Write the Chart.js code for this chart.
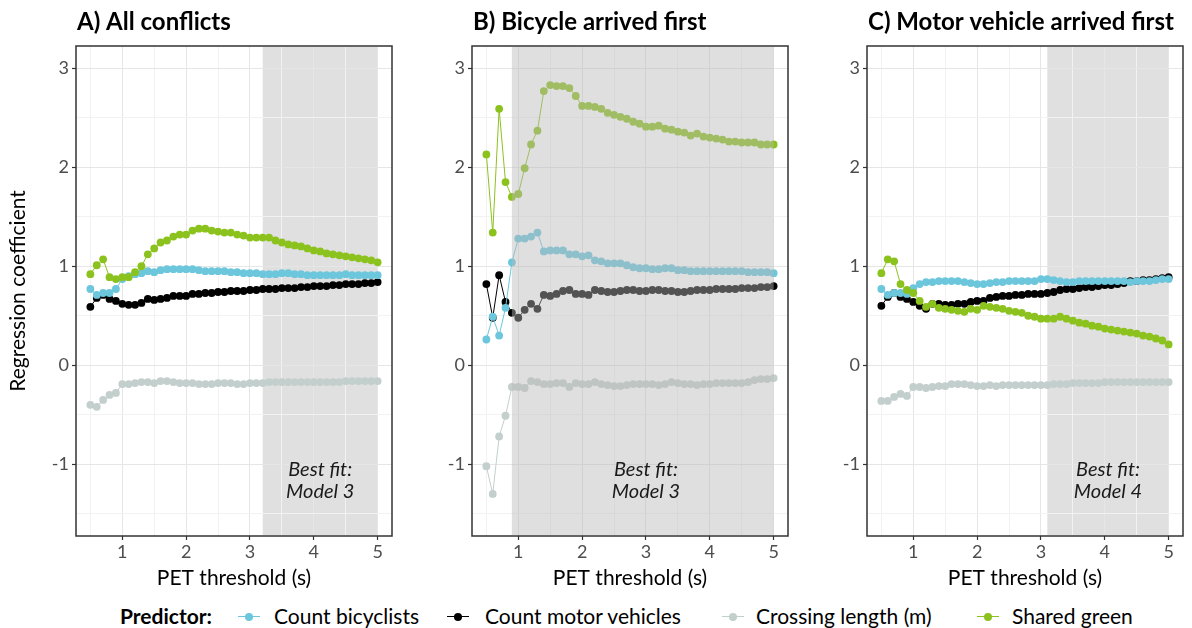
<!DOCTYPE html>
<html>
<head>
<meta charset="utf-8">
<script src="https://cdn.jsdelivr.net/npm/chart.js@4.4.1/dist/chart.umd.min.js"></script>
<style>
  body { margin: 0; background: #fff; font-family: Lato, "Open Sans", sans-serif; }
  #wrap { position: relative; width: 1192px; height: 628px; overflow: hidden; }
  .panel { position: absolute; top: 0; }
  #legend { position: absolute; left: 0; top: 602px; width: 1192px; height: 28px; font-size: 21px; color: #000; }
  #legend .txt { position: absolute; top: 0; line-height: 28px; white-space: nowrap; }
  #legend .key { position: absolute; top: 14px; width: 22px; height: 1px; }
  #legend .key i { position: absolute; left: 7px; top: -3.5px; width: 8px; height: 8px; border-radius: 50%; }
</style>
</head>
<body>
<div id="wrap">
  <canvas id="panelA" class="panel" width="400" height="600" style="left:0px"></canvas>
  <canvas id="panelB" class="panel" width="396" height="600" style="left:400px"></canvas>
  <canvas id="panelC" class="panel" width="396" height="600" style="left:796px"></canvas>
  <div id="legend"></div>
</div>
<script>
// PET thresholds (s)
const petThresholds = [0.5, 0.6, 0.7, 0.8, 0.9, 1.0, 1.1, 1.2, 1.3, 1.4, 1.5, 1.6, 1.7, 1.8, 1.9,
  2.0, 2.1, 2.2, 2.3, 2.4, 2.5, 2.6, 2.7, 2.8, 2.9, 3.0, 3.1, 3.2, 3.3, 3.4, 3.5, 3.6, 3.7, 3.8, 3.9,
  4.0, 4.1, 4.2, 4.3, 4.4, 4.5, 4.6, 4.7, 4.8, 4.9, 5.0];

const seriesNames = ['Count bicyclists', 'Count motor vehicles', 'Crossing length (m)', 'Shared green'];
const seriesColors = ['#6cc6dc', '#000000', '#c3cfcd', '#8cc21e'];

// A) All conflicts
const allBicyclists = [0.77, 0.71, 0.73, 0.73, 0.77, 0.87, 0.90, 0.92, 0.93, 0.95, 0.94, 0.96, 0.97, 0.97, 0.97,
  0.97, 0.97, 0.96, 0.95, 0.95, 0.95, 0.95, 0.94, 0.94, 0.93, 0.93, 0.93, 0.92, 0.92, 0.92, 0.93, 0.93, 0.92, 0.92, 0.91,
  0.91, 0.91, 0.91, 0.91, 0.91, 0.92, 0.91, 0.91, 0.91, 0.91, 0.91];
const allMotor = [0.59, 0.68, 0.71, 0.67, 0.65, 0.62, 0.61, 0.61, 0.63, 0.67, 0.66, 0.67, 0.68, 0.70, 0.70,
  0.70, 0.72, 0.72, 0.73, 0.73, 0.74, 0.74, 0.75, 0.75, 0.75, 0.76, 0.76, 0.77, 0.77, 0.77, 0.78, 0.78, 0.78, 0.79, 0.79,
  0.80, 0.80, 0.80, 0.81, 0.81, 0.82, 0.82, 0.82, 0.83, 0.83, 0.84];
const allCrossing = [-0.40, -0.42, -0.35, -0.30, -0.28, -0.19, -0.19, -0.18, -0.17, -0.17, -0.18, -0.16, -0.16, -0.17, -0.18,
  -0.18, -0.18, -0.19, -0.19, -0.19, -0.18, -0.18, -0.18, -0.19, -0.19, -0.18, -0.18, -0.18, -0.17, -0.17, -0.17, -0.17, -0.17, -0.17, -0.17,
  -0.17, -0.17, -0.17, -0.17, -0.17, -0.16, -0.16, -0.16, -0.16, -0.16, -0.16];
const allShared = [0.92, 1.01, 1.07, 0.89, 0.87, 0.89, 0.89, 0.94, 1.00, 1.12, 1.18, 1.24, 1.26, 1.30, 1.32,
  1.32, 1.36, 1.38, 1.38, 1.36, 1.35, 1.34, 1.34, 1.32, 1.31, 1.29, 1.29, 1.29, 1.29, 1.26, 1.24, 1.22, 1.21, 1.20, 1.18,
  1.16, 1.15, 1.13, 1.12, 1.11, 1.10, 1.09, 1.08, 1.07, 1.06, 1.04];

// B) Bicycle arrived first
const bikeBicyclists = [0.26, 0.49, 0.30, 0.58, 1.04, 1.28, 1.28, 1.30, 1.34, 1.15, 1.16, 1.16, 1.16, 1.12, 1.12,
  1.10, 1.11, 1.06, 1.05, 1.03, 1.03, 1.03, 1.01, 0.99, 0.98, 0.98, 0.97, 0.97, 0.98, 0.98, 0.96, 0.96, 0.95, 0.95, 0.95,
  0.95, 0.95, 0.95, 0.95, 0.95, 0.95, 0.94, 0.94, 0.94, 0.94, 0.93];
const bikeMotor = [0.82, 0.48, 0.91, 0.64, 0.53, 0.48, 0.56, 0.62, 0.57, 0.71, 0.70, 0.72, 0.75, 0.76, 0.72,
  0.72, 0.71, 0.76, 0.75, 0.74, 0.74, 0.75, 0.76, 0.76, 0.75, 0.75, 0.76, 0.76, 0.75, 0.75, 0.74, 0.74, 0.75, 0.76, 0.76,
  0.76, 0.77, 0.77, 0.77, 0.77, 0.78, 0.78, 0.78, 0.79, 0.79, 0.80];
const bikeCrossing = [-1.02, -1.30, -0.72, -0.51, -0.22, -0.22, -0.23, -0.16, -0.17, -0.19, -0.19, -0.18, -0.18, -0.22, -0.18,
  -0.19, -0.19, -0.17, -0.19, -0.20, -0.21, -0.21, -0.20, -0.19, -0.19, -0.19, -0.19, -0.20, -0.19, -0.17, -0.18, -0.19, -0.19, -0.20, -0.19,
  -0.19, -0.18, -0.18, -0.18, -0.18, -0.18, -0.17, -0.15, -0.14, -0.14, -0.13];
const bikeShared = [2.13, 1.34, 2.59, 1.85, 1.70, 1.73, 1.99, 2.23, 2.37, 2.77, 2.83, 2.82, 2.82, 2.80, 2.72,
  2.62, 2.62, 2.61, 2.59, 2.55, 2.53, 2.51, 2.49, 2.46, 2.44, 2.41, 2.41, 2.42, 2.39, 2.38, 2.36, 2.35, 2.32, 2.34, 2.31,
  2.30, 2.29, 2.28, 2.26, 2.26, 2.25, 2.25, 2.25, 2.23, 2.23, 2.23];

// C) Motor vehicle arrived first
const motorBicyclists = [0.77, 0.71, 0.73, 0.73, 0.72, 0.78, 0.82, 0.84, 0.84, 0.85, 0.85, 0.85, 0.85, 0.84, 0.83,
  0.82, 0.82, 0.83, 0.84, 0.84, 0.85, 0.85, 0.85, 0.85, 0.85, 0.87, 0.87, 0.86, 0.85, 0.84, 0.84, 0.85, 0.85, 0.85, 0.85,
  0.85, 0.85, 0.85, 0.85, 0.84, 0.85, 0.85, 0.85, 0.86, 0.87, 0.87];
const motorMotor = [0.60, 0.69, 0.73, 0.69, 0.67, 0.64, 0.60, 0.57, 0.62, 0.62, 0.61, 0.61, 0.62, 0.62, 0.64,
  0.65, 0.65, 0.68, 0.69, 0.70, 0.70, 0.71, 0.71, 0.72, 0.72, 0.72, 0.73, 0.74, 0.76, 0.77, 0.77, 0.78, 0.79, 0.79, 0.80,
  0.81, 0.81, 0.82, 0.83, 0.85, 0.85, 0.86, 0.86, 0.87, 0.88, 0.89];
const motorCrossing = [-0.36, -0.36, -0.32, -0.29, -0.31, -0.22, -0.22, -0.23, -0.22, -0.21, -0.21, -0.19, -0.19, -0.19, -0.20,
  -0.21, -0.21, -0.20, -0.21, -0.20, -0.20, -0.20, -0.20, -0.20, -0.20, -0.20, -0.20, -0.19, -0.19, -0.19, -0.18, -0.18, -0.18, -0.18, -0.18,
  -0.17, -0.17, -0.17, -0.17, -0.17, -0.17, -0.17, -0.17, -0.17, -0.17, -0.17];
const motorShared = [0.93, 1.07, 1.05, 0.82, 0.76, 0.73, 0.65, 0.59, 0.62, 0.58, 0.57, 0.56, 0.55, 0.54, 0.57,
  0.56, 0.60, 0.59, 0.58, 0.57, 0.55, 0.54, 0.53, 0.50, 0.49, 0.47, 0.47, 0.47, 0.49, 0.47, 0.45, 0.43, 0.42, 0.40, 0.39,
  0.37, 0.36, 0.35, 0.34, 0.33, 0.32, 0.30, 0.29, 0.27, 0.25, 0.21];

// axes
const xTicks = [1, 2, 3, 4, 5];
const xMinorTicks = [0.5, 1.5, 2.5, 3.5, 4.5];
const yTicks = [-1, 0, 1, 2, 3];
const yMinorTicks = [-1.5, -0.5, 0.5, 1.5, 2.5];
const xRange = [0.275, 5.225];
const yRange = [-1.725, 3.225];

const tickFont = { family: 'Lato', size: 18 };
const titleFont = { family: 'Lato', size: 21 };

function panel(canvasId, opt) {
  const datasets = opt.series.map((vals, i) => ({
    label: seriesNames[i],
    data: petThresholds.map((x, j) => ({ x: x, y: vals[j] })),
    showLine: true,
    borderColor: seriesColors[i],
    backgroundColor: seriesColors[i],
    borderWidth: 1,
    pointRadius: 3.9,
    pointBorderWidth: 0,
    order: [2, 3, 1, 0][i]
  }));

  const drawShade = (chart) => {
    const { ctx, chartArea, scales } = chart;
    const x0 = scales.x.getPixelForValue(opt.shade[0]);
    const x1 = scales.x.getPixelForValue(opt.shade[1]);
    ctx.save();
    ctx.fillStyle = opt.shadeOver ? 'rgba(185,185,185,0.45)' : '#e0e0e0';
    ctx.fillRect(x0, chartArea.top + 1, x1 - x0, chartArea.bottom - chartArea.top - 2);
    ctx.restore();
  };

  const decor = {
    id: 'decor' + canvasId,
    beforeDraw(chart) { if (!opt.shadeOver) drawShade(chart); },
    afterDatasetsDraw(chart) { if (opt.shadeOver) drawShade(chart); },
    afterDraw(chart) {
      const { ctx, chartArea, scales } = chart;
      ctx.save();
      ctx.strokeStyle = '#333333';
      ctx.lineWidth = 1.5;
      ctx.strokeRect(chartArea.left, chartArea.top, chartArea.right - chartArea.left, chartArea.bottom - chartArea.top);
      ctx.fillStyle = '#000';
      ctx.textBaseline = 'middle';
      ctx.textAlign = 'left';
      ctx.font = 'bold 24px Lato';
      ctx.fillText(opt.title, chartArea.left + 1, 22);
      ctx.font = 'italic 20px Lato';
      ctx.fillStyle = '#1a1a1a';
      ctx.textAlign = 'center';
      const nx = scales.x.getPixelForValue(opt.noteX);
      const ny = scales.y.getPixelForValue(opt.noteY);
      ctx.fillText(opt.note[0], nx, ny - 11);
      ctx.fillText(opt.note[1], nx, ny + 11);
      ctx.restore();
    }
  };

  const isMajor = v => Math.abs(v - Math.round(v)) < 1e-9;

  return new Chart(document.getElementById(canvasId), {
    type: 'scatter',
    data: { datasets: datasets },
    plugins: [decor],
    options: {
      responsive: false,
      animation: false,
      layout: { padding: { top: 46, right: opt.padRight, left: 0, bottom: 0 } },
      plugins: { legend: { display: false }, tooltip: { enabled: false } },
      scales: {
        x: {
          type: 'linear',
          min: xRange[0], max: xRange[1],
          afterBuildTicks: s => { s.ticks = xTicks.concat(xMinorTicks).sort((a, b) => a - b).map(v => ({ value: v })); },
          afterFit: s => { s.height = 64; },
          border: { display: false },
          grid: {
            color: c => isMajor(c.tick.value) ? '#e6e6e6' : '#f2f2f2',
            lineWidth: 1,
            tickLength: 4,
            tickWidth: 1.2,
            tickColor: c => isMajor(c.tick.value) ? '#333333' : 'rgba(0,0,0,0)'
          },
          ticks: {
            autoSkip: false, maxRotation: 0, padding: 1,
            color: '#4d4d4d', font: tickFont,
            callback: v => xTicks.includes(v) ? String(v) : ''
          },
          title: { display: true, text: 'PET threshold (s)', color: '#000', font: titleFont, padding: { top: 0, bottom: 9 } }
        },
        y: {
          type: 'linear',
          min: yRange[0], max: yRange[1],
          afterBuildTicks: s => { s.ticks = yTicks.concat(yMinorTicks).sort((a, b) => a - b).map(v => ({ value: v })); },
          afterFit: s => { s.width = opt.yWidth; },
          border: { display: false },
          grid: {
            color: c => isMajor(c.tick.value) ? '#e6e6e6' : '#f2f2f2',
            lineWidth: 1,
            tickLength: 4,
            tickWidth: 1.2,
            tickColor: c => isMajor(c.tick.value) ? '#333333' : 'rgba(0,0,0,0)'
          },
          ticks: {
            autoSkip: false, padding: 3,
            color: '#4d4d4d', font: tickFont,
            callback: v => yTicks.includes(v) ? String(v) : ''
          },
          title: { display: opt.yTitle, text: 'Regression coefficient', color: '#000', font: titleFont, padding: { top: 6, bottom: 0 } }
        }
      }
    }
  });
}

panel('panelA', {
  title: 'A) All conflicts', series: [allBicyclists, allMotor, allCrossing, allShared],
  shade: [3.2, 5], shadeOver: false, note: ['Best fit:', 'Model 3'], noteX: 4.1, noteY: -1.16,
  yWidth: 76, padRight: 8, yTitle: true
});
panel('panelB', {
  title: 'B) Bicycle arrived first', series: [bikeBicyclists, bikeMotor, bikeCrossing, bikeShared],
  shade: [0.9, 5], shadeOver: true, note: ['Best fit:', 'Model 3'], noteX: 3.0, noteY: -1.16,
  yWidth: 72, padRight: 8, yTitle: false
});
panel('panelC', {
  title: 'C) Motor vehicle arrived first', series: [motorBicyclists, motorMotor, motorCrossing, motorShared],
  shade: [3.1, 5], shadeOver: false, note: ['Best fit:', 'Model 4'], noteX: 4.05, noteY: -1.16,
  yWidth: 71, padRight: 9, yTitle: false
});

// shared legend
const legendKeyX = [238, 447, 722, 977];
const legendTextX = [274, 485, 756, 1012];
const legend = document.getElementById('legend');
let html = '<span class="txt" style="left:120px;font-weight:bold">Predictor:</span>';
seriesNames.forEach((name, i) => {
  html += '<span class="key" style="left:' + legendKeyX[i] + 'px;background:' + seriesColors[i] + '"><i style="background:' + seriesColors[i] + '"></i></span>';
  html += '<span class="txt" style="left:' + legendTextX[i] + 'px">' + name + '</span>';
});
legend.innerHTML = html;
</script>
</body>
</html>
